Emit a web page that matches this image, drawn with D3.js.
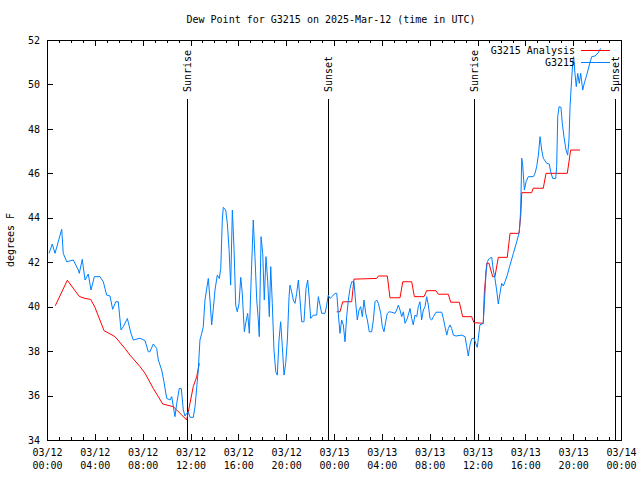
<!DOCTYPE html>
<html><head><meta charset="utf-8">
<script src="https://cdn.jsdelivr.net/npm/d3@7"></script>
<style>
body{margin:0;background:#fff}
svg text{font-family:"DejaVu Sans Mono","Liberation Mono",monospace;font-size:10px;fill:#000}
</style>
</head><body>
<svg id="chart" width="640" height="480"></svg>
<script>
const chartTitle = "Dew Point for G3215 on 2025-Mar-12 (time in UTC)";
const yLabel = "degrees F";
const yTickValues = [34, 36, 38, 40, 42, 44, 46, 48, 50, 52];
const startUtc = Date.UTC(2025, 2, 12, 0, 0);
const endUtc = Date.UTC(2025, 2, 14, 0, 0);
const seriesNames = ["G3215 Analysis", "G3215"];
const seriesColors = ["#ff0000", "#0080ff"];

// hours since 2025-03-12 00:00 UTC
const obsHours = [0.17,0.44,0.67,0.89,1.09,1.23,1.36,1.65,2.2,2.62,2.7,2.95,3.18,3.45,3.68,3.96,4.43,4.71,4.99,5.27,5.49,5.75,5.96,6.19,6.38,6.72,7.02,7.22,7.78,8.2,8.47,8.61,8.89,9.17,9.31,9.59,9.78,10.01,10.29,10.43,10.7,10.85,11.06,11.23,11.4,11.54,11.68,11.82,11.96,12.23,12.38,12.65,12.79,12.94,13.07,13.21,13.49,13.63,13.77,13.91,14.05,14.24,14.41,14.53,14.66,14.74,14.94,15.08,15.22,15.36,15.5,15.64,15.78,15.91,16.06,16.2,16.33,16.5,16.64,16.78,16.92,17.08,17.25,17.39,17.54,17.67,17.75,17.9,18.04,18.17,18.31,18.46,18.59,18.71,18.84,18.98,19.13,19.26,19.4,19.54,19.68,19.82,19.96,20.1,20.24,20.32,20.46,20.6,20.74,20.88,21.02,21.16,21.3,21.49,21.66,21.8,21.94,22.05,22.27,22.55,22.69,22.83,22.97,23.25,23.39,23.52,23.67,23.89,24.08,24.23,24.36,24.5,24.64,24.78,24.92,25.06,25.2,25.34,25.48,25.67,25.82,25.95,26.09,26.23,26.37,26.51,26.65,26.79,26.95,27.15,27.29,27.43,27.57,27.71,27.91,28.04,28.18,28.32,28.46,28.6,28.82,29.1,29.24,29.38,29.52,29.66,29.8,29.94,30.13,30.36,30.5,30.63,30.77,30.92,31.05,31.19,31.33,31.47,31.61,31.75,31.89,32.03,32.17,32.31,32.53,33.01,33.14,33.28,33.43,33.56,33.7,33.84,33.98,34.2,34.68,34.96,35.1,35.23,35.37,35.51,35.7,35.85,35.98,36.2,36.48,36.62,36.71,36.82,36.99,37.19,37.32,37.46,37.6,37.74,37.88,38.02,38.16,38.3,38.49,38.72,39.0,39.28,39.5,39.61,39.7,39.78,39.92,40.06,40.25,40.67,40.81,40.95,41.09,41.23,41.37,41.5,41.79,42.0,42.12,42.29,42.54,42.62,42.71,42.82,42.98,43.09,43.23,43.4,43.54,43.65,43.74,43.82,43.96,44.04,44.15,44.26,44.38,44.51,44.63,44.8,44.93,45.13,45.35,45.55,45.83,46.1,46.3];
const obsValues = [42.4,42.82,42.4,42.82,43.22,43.48,42.4,42.02,42.1,41.65,41.5,42.13,41.2,41.47,40.75,41.35,41.35,41.12,40.52,40.48,39.88,40.22,40.22,38.95,39.1,39.47,38.8,38.5,38.58,38.47,37.97,37.97,38.32,38.12,37.6,37.15,36.62,35.87,35.8,35.95,35.05,35.65,36.32,36.32,35.35,35.08,35.2,35.27,35.02,35.02,35.5,37.15,38.5,38.8,39.1,40.3,41.27,40.3,39.18,39.92,40.75,41.42,41.27,41.72,43.9,44.47,44.35,43.75,42.62,40.97,44.35,42.62,40.07,39.77,40.15,41.32,40.6,38.87,39.32,39.7,38.8,41.35,43.9,42.25,40.3,39.4,38.65,43.15,42.4,40.3,42.25,41.12,39.55,41.8,40.15,38.05,37.07,36.92,38.5,39.32,38.2,36.92,37.45,38.5,40.45,40.97,40.67,40.3,40.15,40.6,41.2,40.3,39.32,39.32,40.82,41.2,40.3,39.47,39.62,39.62,40.45,40.07,39.7,39.7,40.07,40.52,40.37,40.48,40.6,40.6,39.7,38.8,39.4,39.18,38.42,39.55,40.3,40.82,41.12,41.12,40.15,39.4,39.85,40.0,39.55,40.3,39.7,39.4,38.87,38.87,39.4,40.22,40.3,40.15,39.7,39.1,38.87,39.32,39.7,39.77,39.75,39.7,39.85,40.07,39.85,39.55,39.77,39.25,39.47,39.92,39.47,39.18,39.62,39.55,40.0,40.22,39.4,39.85,40.0,40.45,40.07,39.47,39.4,39.55,39.75,39.75,39.47,39.1,38.72,39.02,39.18,39.02,38.72,38.68,38.72,38.65,38.2,37.78,38.27,38.55,38.58,38.35,38.17,39.18,39.25,40.6,41.5,42.02,42.17,42.22,41.65,41.27,40.75,40.12,40.6,41.05,40.93,41.12,41.42,41.87,42.4,42.92,43.37,44.35,46.68,46.37,45.25,45.62,45.85,45.85,46.0,46.3,46.82,47.65,47.05,46.68,46.45,46.42,46.07,45.77,45.77,46.3,48.55,49.0,48.97,48.25,47.65,47.05,46.82,47.5,49.0,49.75,50.95,51.25,50.5,49.9,50.5,50.05,50.5,49.75,50.05,50.42,50.87,51.25,51.28,51.43,51.62];

// null marks the gap in the analysis series
const anaHours = [0.69,1.7,2.7,3.18,3.65,4.01,4.77,5.69,6.52,6.94,7.78,8.2,8.89,9.68,10.56,10.85,11.68,12.23,12.52,12.74,18.0,24.23,24.5,24.73,25.48,25.67,27.57,27.71,28.46,28.68,29.52,29.75,30.5,30.72,31.53,31.75,32.53,32.72,33.56,33.76,34.48,34.76,35.51,35.7,36.48,36.57,36.77,36.96,37.27,37.46,37.74,38.49,38.72,39.47,39.61,39.7,40.53,40.66,41.5,41.73,43.51,43.79,44.57];
const anaValues = [40.04,41.19,40.46,40.37,40.33,39.97,38.92,38.65,38.12,37.82,37.3,37.0,36.32,35.62,35.5,35.35,34.9,36.4,36.85,37.45,null,39.77,39.77,40.22,40.22,41.24,41.27,41.38,41.38,40.4,40.4,41.12,41.12,40.45,40.45,40.72,40.72,40.56,40.56,40.2,40.2,39.55,39.55,39.28,39.25,40.6,41.95,41.95,41.35,41.35,42.22,42.22,43.3,43.3,44.05,45.13,45.13,45.33,45.33,46.0,46.0,47.05,47.05];

const sunLabels = ["Sunrise", "Sunset", "Sunrise", "Sunset"];
const sunHours = [11.79, 23.58, 35.71, 47.58];

const hourToDate = h => new Date(startUtc + h * 3600000);

const W = 640, H = 480;
const plot = {left: 47, right: 621, top: 40, bottom: 440};
const svg = d3.select("#chart");

const x = d3.scaleUtc().domain([new Date(startUtc), new Date(endUtc)]).range([plot.left, plot.right]);
const y = d3.scaleLinear().domain([34, 52]).range([plot.bottom, plot.top]);

// title
svg.append("text").attr("x", 331).attr("y", 19).attr("dy", "0.35em")
  .attr("text-anchor", "middle").text(chartTitle);
// y label
svg.append("text").attr("transform", "translate(10,240) rotate(-90)")
  .attr("dy", "0.35em").attr("text-anchor", "middle").text(yLabel);

const axisStyle = g => {
  g.selectAll("path.domain").remove();
  g.selectAll("line").attr("stroke", "#000").attr("shape-rendering", "crispEdges");
};

// minor x ticks (hourly)
svg.append("g").attr("transform", `translate(0,${plot.bottom})`)
  .call(d3.axisBottom(x).ticks(d3.utcHour.every(1)).tickSizeInner(-3).tickSizeOuter(0).tickFormat(""))
  .call(axisStyle);
svg.append("g").attr("transform", `translate(0,${plot.top})`)
  .call(d3.axisTop(x).ticks(d3.utcHour.every(1)).tickSizeInner(-3).tickSizeOuter(0).tickFormat(""))
  .call(axisStyle);

// major x ticks
const fmtDate = d3.utcFormat("%m/%d"), fmtTime = d3.utcFormat("%H:%M");
const xAxis = svg.append("g").attr("transform", `translate(0,${plot.bottom})`)
  .call(d3.axisBottom(x).ticks(d3.utcHour.every(4)).tickSizeInner(-6).tickSizeOuter(0).tickPadding(9).tickFormat(""))
  .call(axisStyle);
xAxis.selectAll(".tick text").each(function(d) {
  const t = d3.select(this);
  t.append("tspan").attr("x", 0).attr("dy", "0.71em").text(fmtDate(d));
  t.append("tspan").attr("x", 0).attr("dy", "1.3em").text(fmtTime(d));
});
svg.append("g").attr("transform", `translate(0,${plot.top})`)
  .call(d3.axisTop(x).ticks(d3.utcHour.every(4)).tickSizeInner(-6).tickSizeOuter(0).tickFormat(""))
  .call(axisStyle);

// y axes
svg.append("g").attr("transform", `translate(${plot.left},0)`)
  .call(d3.axisLeft(y).tickValues(yTickValues).tickSizeInner(-6).tickSizeOuter(0).tickPadding(7).tickFormat(d3.format("d")))
  .call(axisStyle);
svg.append("g").attr("transform", `translate(${plot.right},0)`)
  .call(d3.axisRight(y).tickValues(yTickValues).tickSizeInner(-6).tickSizeOuter(0).tickFormat(""))
  .call(axisStyle);
svg.selectAll(".tick text").attr("fill", "#000").style("font-family", "'DejaVu Sans Mono',monospace").style("font-size", "10px");

// frame
svg.append("rect").attr("x", plot.left).attr("y", plot.top)
  .attr("width", plot.right - plot.left).attr("height", plot.bottom - plot.top)
  .attr("fill", "none").attr("stroke", "#000").attr("shape-rendering", "crispEdges");

// sunrise / sunset
const sun = svg.append("g");
sunHours.forEach((h, i) => {
  const sx = x(hourToDate(h));
  sun.append("line").attr("x1", sx).attr("x2", sx).attr("y1", 99).attr("y2", plot.bottom)
    .attr("stroke", "#000").attr("shape-rendering", "crispEdges");
  sun.append("text").attr("transform", `translate(${sx},92) rotate(-90)`)
    .attr("dy", "0.35em").attr("text-anchor", "start").text(sunLabels[i]);
});

// data lines
const line = d3.line().defined(d => d[1] !== null)
  .x(d => x(hourToDate(d[0]))).y(d => y(d[1]));
const anaData = anaHours.map((h, i) => [h, anaValues[i]]);
const obsData = obsHours.map((h, i) => [h, obsValues[i]]);
svg.append("path").datum(anaData).attr("d", line)
  .attr("fill", "none").attr("stroke", seriesColors[0]).attr("stroke-width", 1);
svg.append("path").datum(obsData).attr("d", line)
  .attr("fill", "none").attr("stroke", seriesColors[1]).attr("stroke-width", 1);

// legend
const legend = svg.append("g");
seriesNames.forEach((name, i) => {
  const ly = 50 + i * 12;
  legend.append("text").attr("x", 575).attr("y", ly).attr("dy", "0.35em")
    .attr("text-anchor", "end").text(name);
  legend.append("line").attr("x1", 581).attr("x2", 610).attr("y1", ly).attr("y2", ly)
    .attr("stroke", seriesColors[i]).attr("shape-rendering", "crispEdges");
});
</script>
</body></html>
